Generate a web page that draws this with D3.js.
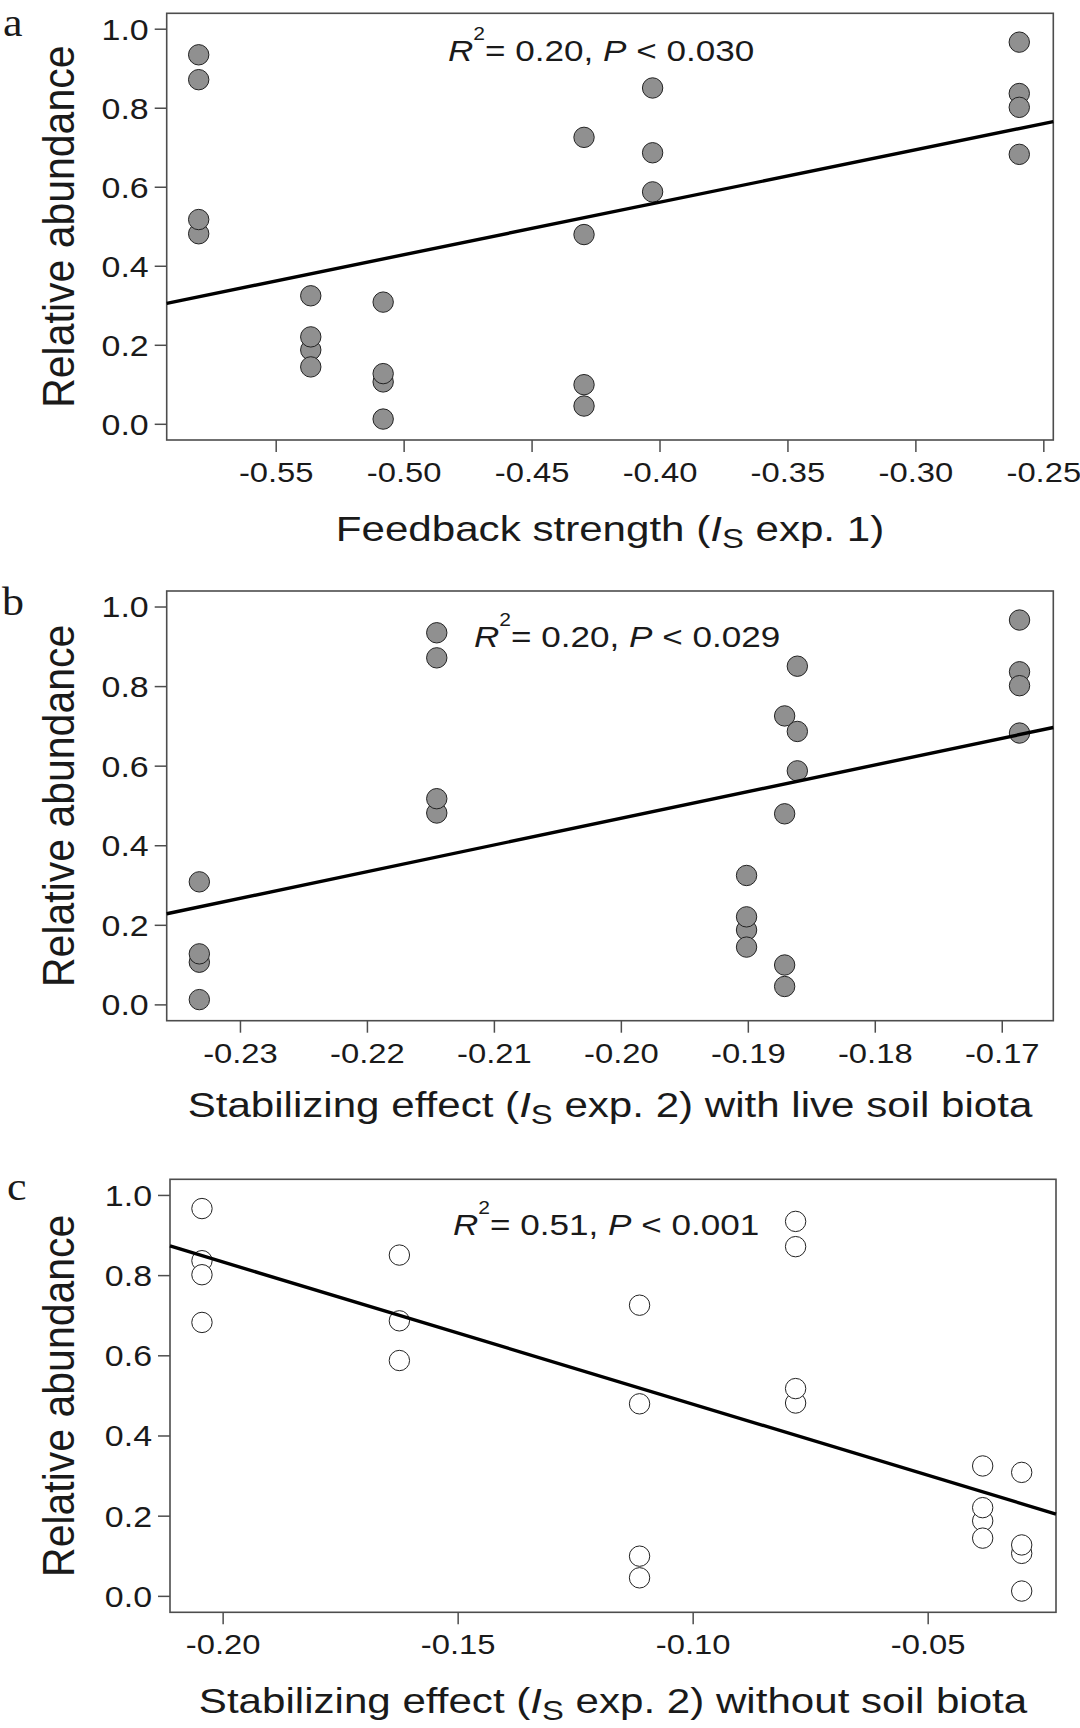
<!DOCTYPE html>
<html><head><meta charset="utf-8">
<script src="https://cdn.jsdelivr.net/npm/d3@7"></script>
<style>
html,body{margin:0;padding:0;background:#fff;}
svg{display:block;}
text{font-family:"Liberation Sans", Arial, Helvetica, sans-serif; fill:#1a1a1a;}
</style></head><body>
<svg id="chart" width="1080" height="1728"></svg>
<script>
// ---- data ----
// Relative abundance of the 23 observations (same species groups in all panels)
const relAbundance = [0.934, 0.871, 0.481, 0.517,
                      0.324, 0.187, 0.220, 0.144,
                      0.308, 0.106, 0.127, 0.012,
                      0.725, 0.479, 0.099, 0.045,
                      0.850, 0.686, 0.587,
                      0.966, 0.836, 0.801, 0.682];
// Panel a: feedback strength (IS exp. 1)
const feedbackExp1 = [-0.5801, -0.5801, -0.5801, -0.5801,
                      -0.5363, -0.5363, -0.5363, -0.5363,
                      -0.5080, -0.5080, -0.5080, -0.5080,
                      -0.4295, -0.4295, -0.4295, -0.4295,
                      -0.4027, -0.4027, -0.4027,
                      -0.2594, -0.2594, -0.2594, -0.2594];
// Panel b: stabilizing effect (IS exp. 2) with live soil biota
const stabilizingLive = [-0.2145, -0.2145, -0.2145, -0.2145,
                         -0.1901, -0.1901, -0.1901, -0.1901,
                         -0.2332, -0.2332, -0.2332, -0.2332,
                         -0.1871, -0.1871, -0.1871, -0.1871,
                         -0.1861, -0.1861, -0.1861,
                         -0.1686, -0.1686, -0.1686, -0.1686];
// Panel c: stabilizing effect (IS exp. 2) without soil biota
const stabilizingSterile = [-0.0781, -0.0781, -0.0781, -0.0781,
                            -0.0383, -0.0383, -0.0383, -0.0383,
                            -0.0300, -0.0300, -0.0300, -0.0300,
                            -0.1113, -0.1113, -0.1113, -0.1113,
                            -0.1624, -0.1624, -0.1624,
                            -0.2044, -0.2044, -0.2044, -0.2044];
const yTicks = [0.0, 0.2, 0.4, 0.6, 0.8, 1.0];
const xTicksA = [-0.55, -0.50, -0.45, -0.40, -0.35, -0.30, -0.25];
const xTicksB = [-0.23, -0.22, -0.21, -0.20, -0.19, -0.18, -0.17];
const xTicksC = [-0.20, -0.15, -0.10, -0.05];
// regression lines: y = intercept + slope * x
const fitIntercept = [1.0917, 1.808, 0.1235];
const fitSlope = [1.3276, 6.702, -3.5475];
const r2Values = ["0.20", "0.20", "0.51"];
const pValues = ["0.030", "0.029", "0.001"];
const panelLetters = ["a", "b", "c"];
const xTitlePrefix = ["Feedback strength (", "Stabilizing effect (", "Stabilizing effect ("];
const xTitleSuffix = [" exp. 1)", " exp. 2) with live soil biota", " exp. 2) without soil biota"];
const yTitle = "Relative abundance";

// ---- layout ----
const SX = 1.17; // horizontal stretch of the lettering in the reference
const panels = [
  {xs: feedbackExp1, ticks: xTicksA, left: 166.7, right: 1053.3, top: 13.3, bottom: 440,
   xDomain: [-0.5926, -0.2461], filled: true, annX: 448, annY: 61, letX: 3, letY: 36, titleY: 541},
  {xs: stabilizingLive, ticks: xTicksB, left: 166.7, right: 1053.3, top: 591, bottom: 1020.7,
   xDomain: [-0.23577, -0.16594], filled: true, annX: 474, annY: 647, letX: 2, letY: 615, titleY: 1117},
  {xs: stabilizingSterile, ticks: xTicksC, left: 170, right: 1056, top: 1179.3, bottom: 1612.3,
   xDomain: [-0.2112, -0.0227], filled: false, annX: 453, annY: 1235, letX: 7, letY: 1200, titleY: 1713}
];

const svg = d3.select("#chart");
svg.append("rect").attr("width", 1080).attr("height", 1728).attr("fill", "#fff");

panels.forEach((P, i) => {
  const x = d3.scaleLinear().domain(P.xDomain).range([P.left, P.right]);
  const y = d3.scaleLinear().domain([-0.041, 1.039]).range([P.bottom, P.top]);
  const g = svg.append("g");

  // frame
  g.append("rect").attr("x", P.left).attr("y", P.top)
    .attr("width", P.right - P.left).attr("height", P.bottom - P.top)
    .attr("fill", "none").attr("stroke", "#4d4d4d").attr("stroke-width", 1.6);

  // x axis
  const xa = g.append("g").attr("transform", `translate(0,${P.bottom})`)
    .call(d3.axisBottom(x).tickValues(P.ticks).tickFormat(d => d.toFixed(2))
      .tickSizeInner(12).tickSizeOuter(0));
  xa.select(".domain").remove();
  xa.selectAll("line").attr("stroke", "#4d4d4d").attr("stroke-width", 1.5);
  xa.selectAll("text").attr("y", 0).attr("dy", 0)
    .attr("transform", `translate(0,42) scale(${SX},1)`)
    .style("font-size", "28px");

  // y axis
  const ya = g.append("g").attr("transform", `translate(${P.left},0)`)
    .call(d3.axisLeft(y).tickValues(yTicks).tickFormat(d => d.toFixed(1))
      .tickSizeInner(12).tickSizeOuter(0));
  ya.select(".domain").remove();
  ya.selectAll("line").attr("stroke", "#4d4d4d").attr("stroke-width", 1.5);
  ya.selectAll("text").attr("x", 0).attr("dy", "0.36em")
    .attr("transform", `translate(-18,0) scale(${SX},1)`)
    .style("font-size", "29px");

  // points
  g.append("g").selectAll("circle").data(P.xs.map((v, k) => [v, relAbundance[k]]))
    .join("circle")
    .attr("cx", d => x(d[0])).attr("cy", d => y(d[1])).attr("r", 10.2)
    .attr("fill", P.filled ? "#909090" : "#ffffff")
    .attr("stroke", "#222").attr("stroke-width", 1);

  // regression line
  const line = d3.line().x(d => x(d)).y(d => y(fitIntercept[i] + fitSlope[i] * d));
  g.append("path").datum(P.xDomain).attr("d", line)
    .attr("fill", "none").attr("stroke", "#000").attr("stroke-width", 3.4);

  // annotation
  const ann = g.append("text").attr("transform", `translate(${P.annX},${P.annY}) scale(${SX},1)`)
    .style("font-size", "30px");
  ann.append("tspan").style("font-style", "italic").text("R");
  ann.append("tspan").attr("dy", -21).style("font-size", "18px").text("2");
  ann.append("tspan").attr("dy", 21).text("= " + r2Values[i] + ", ");
  ann.append("tspan").style("font-style", "italic").text("P");
  ann.append("tspan").text(" < " + pValues[i]);

  // x title
  const cx = (P.left + P.right) / 2;
  const xt = g.append("text").attr("text-anchor", "middle")
    .attr("transform", `translate(${cx},${P.titleY}) scale(${SX},1)`)
    .style("font-size", "36px");
  xt.append("tspan").text(xTitlePrefix[i]);
  xt.append("tspan").style("font-style", "italic").text("I");
  xt.append("tspan").attr("dy", 7).style("font-size", "28px").text("S");
  xt.append("tspan").attr("dy", -7).text(xTitleSuffix[i]);

  // y title
  const cy = (P.top + P.bottom) / 2;
  g.append("text").attr("text-anchor", "middle")
    .attr("transform", `translate(74,${cy}) scale(1.1,1) rotate(-90)`)
    .style("font-size", "41px").text(yTitle);

  // panel letter
  g.append("text").attr("transform", `translate(${P.letX},${P.letY}) scale(1.1,1)`)
    .style("font-family", '"Liberation Serif", "Times New Roman", serif')
    .style("font-size", "40px").text(panelLetters[i]);
});
</script>
</body></html>
